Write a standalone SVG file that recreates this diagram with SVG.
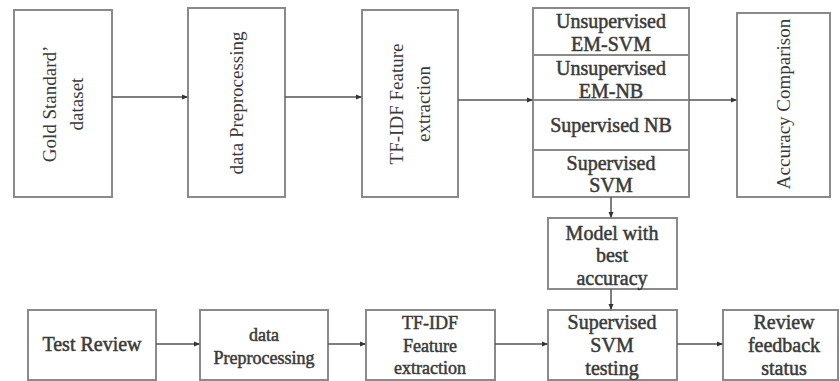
<svg xmlns="http://www.w3.org/2000/svg" width="840" height="381" viewBox="0 0 840 381">
<defs>
<marker id="ah" markerWidth="6" markerHeight="6" refX="5" refY="3" orient="auto" markerUnits="userSpaceOnUse">
<path d="M0,0.5 L6,3 L0,5.5 Z" fill="#333"/>
</marker>
<style>
.box{fill:#fff;stroke:#8a8a8a;stroke-width:2}
.div{stroke:#8a8a8a;stroke-width:2}
text{font-family:'Liberation Serif',serif;fill:#3a3a3a;text-anchor:middle}
.v{font-size:19px}
.h{font-size:20px;stroke:#3a3a3a;stroke-width:0.5}
.s{font-size:18px;stroke:#3a3a3a;stroke-width:0.5}
.c{stroke:#555;stroke-width:1.5;fill:none}
</style>
</defs>
<rect width="840" height="381" fill="#fff"/>
<g id="gold">
<rect class="box" x="14" y="10" width="98" height="187"/>
<text class="v" transform="translate(63,104) rotate(-90)"><tspan x="0" y="-7">Gold Standard’</tspan><tspan x="0" y="20">dataset</tspan></text>
</g>
<g id="prep1">
<rect class="box" x="188" y="8" width="97" height="189"/>
<text class="v" transform="translate(236,103) rotate(-90)"><tspan x="0" y="7">data Preprocessing</tspan></text>
</g>
<g id="tfidf1">
<rect class="box" x="362" y="10" width="96" height="187"/>
<text class="v" transform="translate(410,104) rotate(-90)"><tspan x="0" y="-7">TF-IDF Feature</tspan><tspan x="0" y="20">extraction</tspan></text>
</g>
<g id="models">
<rect class="box" x="533" y="8" width="156" height="189"/>
<line class="div" x1="533" y1="55" x2="689" y2="55"/>
<line class="div" x1="533" y1="100" x2="689" y2="100"/>
<line class="div" x1="533" y1="150" x2="689" y2="150"/>
<text class="h" x="611" y="28">Unsupervised</text>
<text class="h" x="611" y="51">EM-SVM</text>
<text class="h" x="611" y="75">Unsupervised</text>
<text class="h" x="611" y="98">EM-NB</text>
<text class="h" x="611" y="132">Supervised NB</text>
<text class="h" x="611" y="170">Supervised</text>
<text class="h" x="611" y="192">SVM</text>
</g>
<g id="accuracy">
<rect class="box" x="737" y="13" width="93" height="184"/>
<text class="v" transform="translate(783,104) rotate(-90)"><tspan x="0" y="7">Accuracy Comparison</tspan></text>
</g>
<g id="best">
<rect class="box" x="548" y="218" width="129" height="71"/>
<text class="h" x="612" y="240">Model with</text>
<text class="h" x="612" y="262">best</text>
<text class="h" x="612" y="285">accuracy</text>
</g>
<g id="test">
<rect class="box" x="28" y="310" width="128" height="70"/>
<text class="h" x="92" y="351">Test Review</text>
</g>
<g id="prep2">
<rect class="box" x="200" y="310" width="128" height="70"/>
<text class="s" x="264" y="341">data</text>
<text class="s" x="264" y="364">Preprocessing</text>
</g>
<g id="tfidf2">
<rect class="box" x="366" y="310" width="129" height="70"/>
<text class="s" x="430" y="329">TF-IDF</text>
<text class="s" x="430" y="352">Feature</text>
<text class="s" x="430" y="374">extraction</text>
</g>
<g id="svmtest">
<rect class="box" x="548" y="310" width="129" height="70"/>
<text class="h" x="612" y="329">Supervised</text>
<text class="h" x="612" y="352">SVM</text>
<text class="h" x="612" y="375">testing</text>
</g>
<g id="feedback">
<rect class="box" x="723" y="310" width="115" height="70"/>
<text class="h" x="784" y="329">Review</text>
<text class="h" x="784" y="352">feedback</text>
<text class="h" x="784" y="375">status</text>
</g>
<g id="connectors">
<line class="c" x1="112" y1="97" x2="187" y2="97" marker-end="url(#ah)"/>
<line class="c" x1="285" y1="97" x2="361" y2="97" marker-end="url(#ah)"/>
<line class="c" x1="458" y1="100" x2="532" y2="100" marker-end="url(#ah)"/>
<line class="c" x1="689" y1="100" x2="736" y2="100" marker-end="url(#ah)"/>
<line class="c" x1="611" y1="197" x2="611" y2="217" marker-end="url(#ah)"/>
<line class="c" x1="611" y1="289" x2="611" y2="309" marker-end="url(#ah)"/>
<line class="c" x1="156" y1="344" x2="199" y2="344" marker-end="url(#ah)"/>
<line class="c" x1="328" y1="344" x2="365" y2="344" marker-end="url(#ah)"/>
<line class="c" x1="495" y1="344" x2="547" y2="344" marker-end="url(#ah)"/>
<line class="c" x1="677" y1="344" x2="722" y2="344" marker-end="url(#ah)"/>
</g>
</svg>
